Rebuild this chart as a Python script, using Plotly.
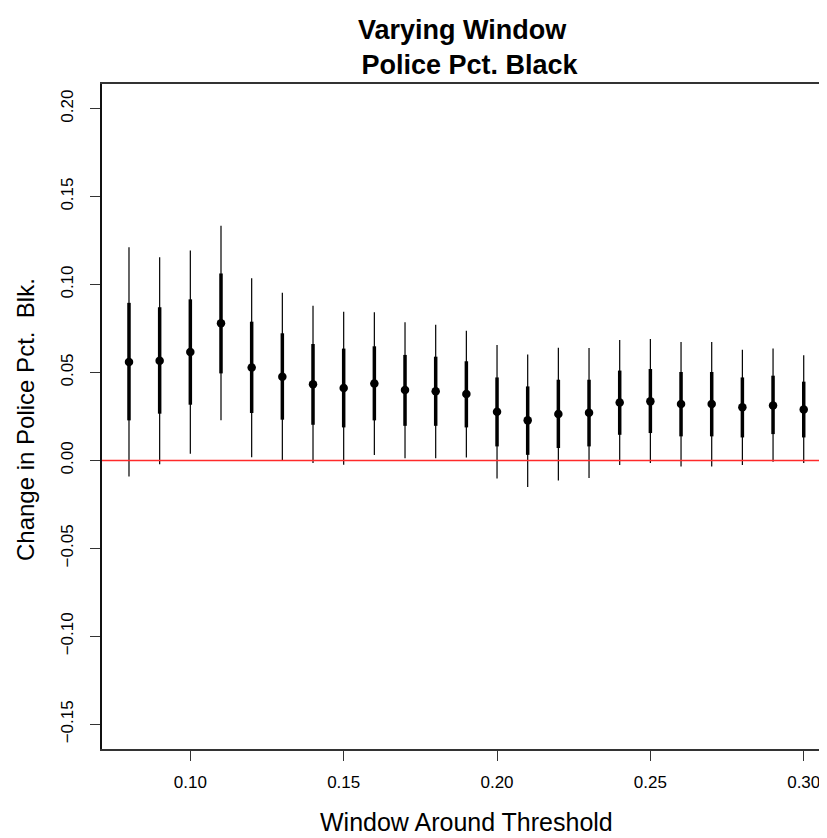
import plotly.graph_objects as go

# ---- data ----
window = [0.08, 0.09, 0.10, 0.11, 0.12, 0.13, 0.14, 0.15, 0.16, 0.17, 0.18, 0.19,
          0.20, 0.21, 0.22, 0.23, 0.24, 0.25, 0.26, 0.27, 0.28, 0.29, 0.30]
estimate = [0.0560, 0.0567, 0.0617, 0.0780, 0.0528, 0.0476, 0.0433, 0.0412, 0.0438, 0.0401, 0.0393, 0.0378,
            0.0277, 0.0228, 0.0264, 0.0271, 0.0330, 0.0336, 0.0321, 0.0321, 0.0302, 0.0313, 0.0290]
inner_lo = [0.0228, 0.0266, 0.0317, 0.0495, 0.0270, 0.0232, 0.0203, 0.0188, 0.0228, 0.0197, 0.0197, 0.0188,
            0.0080, 0.0032, 0.0071, 0.0080, 0.0146, 0.0156, 0.0137, 0.0137, 0.0131, 0.0150, 0.0131]
inner_hi = [0.0896, 0.0871, 0.0916, 0.1063, 0.0789, 0.0723, 0.0662, 0.0636, 0.0649, 0.0600, 0.0590, 0.0564,
            0.0472, 0.0421, 0.0459, 0.0459, 0.0511, 0.0520, 0.0503, 0.0503, 0.0472, 0.0482, 0.0448]
outer_lo = [-0.0091, -0.0021, 0.0038, 0.0228, 0.0019, -0.0002, -0.0015, -0.0024, 0.0031, 0.0012, 0.0013, 0.0017,
            -0.0102, -0.0151, -0.0114, -0.0100, -0.0026, -0.0015, -0.0034, -0.0034, -0.0026, -0.0007, -0.0015]
outer_hi = [0.1212, 0.1155, 0.1193, 0.1334, 0.1036, 0.0954, 0.0879, 0.0845, 0.0843, 0.0786, 0.0772, 0.0738,
            0.0657, 0.0603, 0.0641, 0.0640, 0.0685, 0.0691, 0.0674, 0.0674, 0.0630, 0.0636, 0.0598]

x_tick_vals = [0.10, 0.15, 0.20, 0.25, 0.30]
x_tick_text = ["0.10", "0.15", "0.20", "0.25", "0.30"]
y_tick_vals = [-0.15, -0.10, -0.05, 0.00, 0.05, 0.10, 0.15, 0.20]
y_tick_text = ["\u22120.15", "\u22120.10", "\u22120.05", "0.00", "0.05", "0.10", "0.15", "0.20"]

title_line1 = "Varying Window"
title_line2 = "Police Pct. Black"
x_label = "Window Around Threshold"
y_label = "Change in Police Pct.  Blk."

FONT = "Liberation Sans, Arial, Helvetica, sans-serif"


def segments(xs, lo, hi):
    sx, sy = [], []
    for xv, a, b in zip(xs, lo, hi):
        sx += [xv, xv, None]
        sy += [a, b, None]
    return sx, sy


fig = go.Figure()

ox, oy = segments(window, outer_lo, outer_hi)
fig.add_trace(go.Scatter(x=ox, y=oy, mode="lines",
                         line=dict(color="black", width=1.2), showlegend=False, hoverinfo="skip"))
ix, iy = segments(window, inner_lo, inner_hi)
fig.add_trace(go.Scatter(x=ix, y=iy, mode="lines",
                         line=dict(color="black", width=3.5), showlegend=False, hoverinfo="skip"))
fig.add_trace(go.Scatter(x=window, y=estimate, mode="markers",
                         marker=dict(color="black", size=8.5), showlegend=False))

# zero reference line
fig.add_shape(type="line", xref="paper", yref="y", x0=0, x1=1, y0=0, y1=0,
              line=dict(color="#ff2a2a", width=1.3))

# the page body adds an 8px offset; the figure is sized to fit inside the window
OFF = 8
W, H = 827 - OFF, 838 - OFF
ML, MR, MT, MB = 94, 0, 76, 89
pw, ph = W - ML - MR, H - MT - MB


def px_x(px):  # page pixel -> paper coordinate
    return (px - OFF - ML) / pw


def px_y(py):
    return (H - MB - (py - OFF)) / ph


title_text = "<b>%s\u00a0<br>\u00a0%s</b>" % (title_line1, title_line2)

annotations = [
    dict(text=title_text, x=px_x(466.6), y=px_y(47), xref="paper", yref="paper",
         xanchor="center", yanchor="middle", align="center", showarrow=False,
         font=dict(family=FONT, size=27, color="black")),
    dict(text=x_label, x=px_x(466.5), y=px_y(822), xref="paper", yref="paper",
         xanchor="center", yanchor="middle", showarrow=False,
         font=dict(family=FONT, size=25, color="black")),
    dict(text=y_label, x=px_x(25), y=px_y(420), xref="paper", yref="paper",
         xanchor="center", yanchor="middle", showarrow=False, textangle=-90,
         font=dict(family=FONT, size=24, color="black")),
]

fig.update_layout(
    width=W, height=H,
    margin=dict(l=ML, r=MR, t=MT, b=MB, pad=0),
    plot_bgcolor="white", paper_bgcolor="white",
    font=dict(family=FONT, size=17, color="black"),
    annotations=annotations,
    xaxis=dict(range=[0.0712, 0.30759], tickvals=x_tick_vals, ticktext=x_tick_text,
               showgrid=False, zeroline=False, showline=True, mirror=True,
               linecolor="#333333", linewidth=1.5, ticks="outside", ticklen=10,
               tickwidth=1, tickcolor="#333333", ticklabelstandoff=7,
               tickfont=dict(family=FONT, size=17, color="black")),
    yaxis=dict(range=[-0.164, 0.214], tickvals=y_tick_vals, ticktext=y_tick_text,
               showgrid=False, zeroline=False, showline=True, mirror=False,
               linecolor="#111111", linewidth=1.5, ticks="outside", ticklen=10,
               tickwidth=1, tickcolor="#333333", tickangle=-90, ticklabelstandoff=10,
               tickfont=dict(family=FONT, size=17, color="black")),
)

fig.write_html("out.html")
